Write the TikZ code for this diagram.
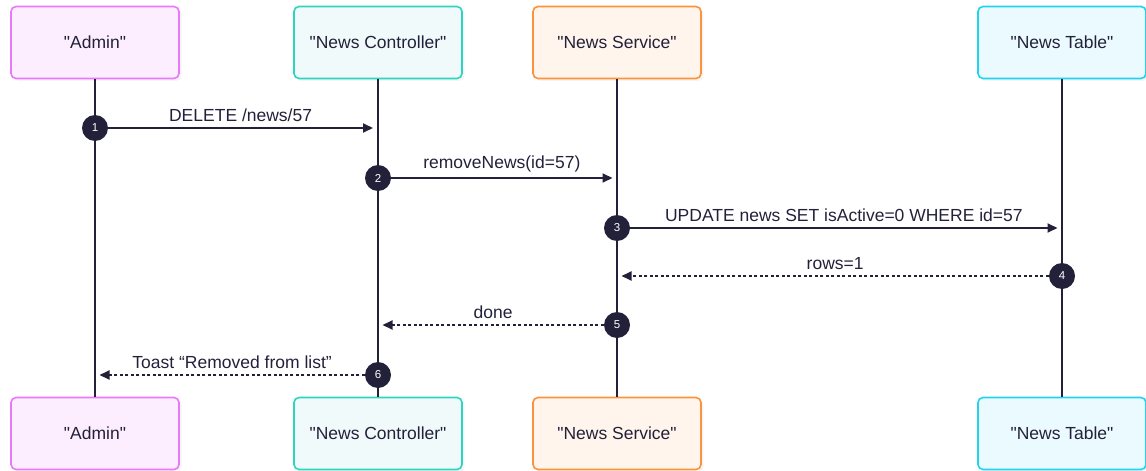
\documentclass[tikz,border=0pt]{standalone}
\usepackage{fontspec}
\newfontfamily\labelfont{Liberation Sans}
\usepackage{xcolor}
\definecolor{ink}{HTML}{23213A}
\definecolor{adminline}{HTML}{E879F9}
\definecolor{adminfill}{HTML}{FCEEFE}
\definecolor{ctrlline}{HTML}{2DD4BF}
\definecolor{ctrlfill}{HTML}{F0FAFA}
\definecolor{servline}{HTML}{FB923C}
\definecolor{servfill}{HTML}{FFF5EC}
\definecolor{tabline}{HTML}{22D3EE}
\definecolor{tabfill}{HTML}{EAFAFE}
\usepackage{tikz}
\usetikzlibrary{arrows.meta,positioning,calc,shadows}

\begin{document}
\begin{tikzpicture}[
  x=1pt, y=-1pt,
  font=\labelfont\fontsize{17.5}{21}\selectfont,
  A/.style 2 args={draw=#1, fill=#2, line width=1.6pt, rounded corners=5pt,
    minimum width=168pt, minimum height=72pt, text=ink,
    drop shadow={shadow xshift=2.5pt, shadow yshift=-2.5pt, opacity=0.08}},
  life/.style={ink, line width=1.8pt},
  num/.style={circle, fill=ink, text=white, inner sep=0pt, minimum size=26pt,
    font=\labelfont\fontsize{11.5}{13}\selectfont},
  msg/.style={-{Triangle[length=10pt, width=9pt]}, ink, line width=1.8pt},
  ret/.style={msg, dash pattern=on 3pt off 2.5pt},
  lbl/.style={text=ink, inner sep=1pt}
]
  \useasboundingbox (0,0) rectangle (1146,471);
  % participants
  \node[A={adminline}{adminfill}] (a) at (95,42.5) {"Admin"};
  \node[A={ctrlline}{ctrlfill}] (c) at (378,42.5) {"News Controller"};
  \node[A={servline}{servfill}] (s) at (617,42.5) {"News Service"};
  \node[A={tabline}{tabfill}] (t) at (1062,42.5) {"News Table"};
  \node[A={adminline}{adminfill}] (a2) at (95,433.5) {"Admin"};
  \node[A={ctrlline}{ctrlfill}] (c2) at (378,433.5) {"News Controller"};
  \node[A={servline}{servfill}] (s2) at (617,433.5) {"News Service"};
  \node[A={tabline}{tabfill}] (t2) at (1062,433.5) {"News Table"};
  % lifelines
  \draw[life] (a) -- (a2);
  \draw[life] (c) -- (c2);
  \draw[life] (s) -- (s2);
  \draw[life] (t) -- (t2);
  % messages
  \node[num] (n1) at (95,128) {1};
  \node[num] (n2) at (378,178) {2};
  \node[num] (n3) at (617,228) {3};
  \node[num] (n4) at (1062,276) {4};
  \node[num] (n5) at (617,325) {5};
  \node[num] (n6) at (378,375) {6};
  \coordinate (e1) at (373,128);
  \coordinate (e2) at (612.5,178);
  \coordinate (e3) at (1057.5,228);
  \coordinate (e4) at (621.5,276);
  \coordinate (e5) at (382.5,325);
  \coordinate (e6) at (99.5,375);
  \draw[msg] (n1) -- (e1) node[lbl, midway, above=4pt] {DELETE /news/57};
  \draw[msg] (n2) -- (e2) node[lbl, midway, above=4pt] {removeNews(id=57)};
  \draw[msg] (n3) -- (e3) node[lbl, midway, above=4pt] {UPDATE news SET isActive=0 WHERE id=57};
  \draw[ret] (n4) -- (e4) node[lbl, midway, above=4pt] {rows=1};
  \draw[ret] (n5) -- (e5) node[lbl, midway, above=4pt] {done};
  \draw[ret] (n6) -- (e6) node[lbl, midway, above=4pt] {Toast “Removed from list”};
\end{tikzpicture}
\end{document}
